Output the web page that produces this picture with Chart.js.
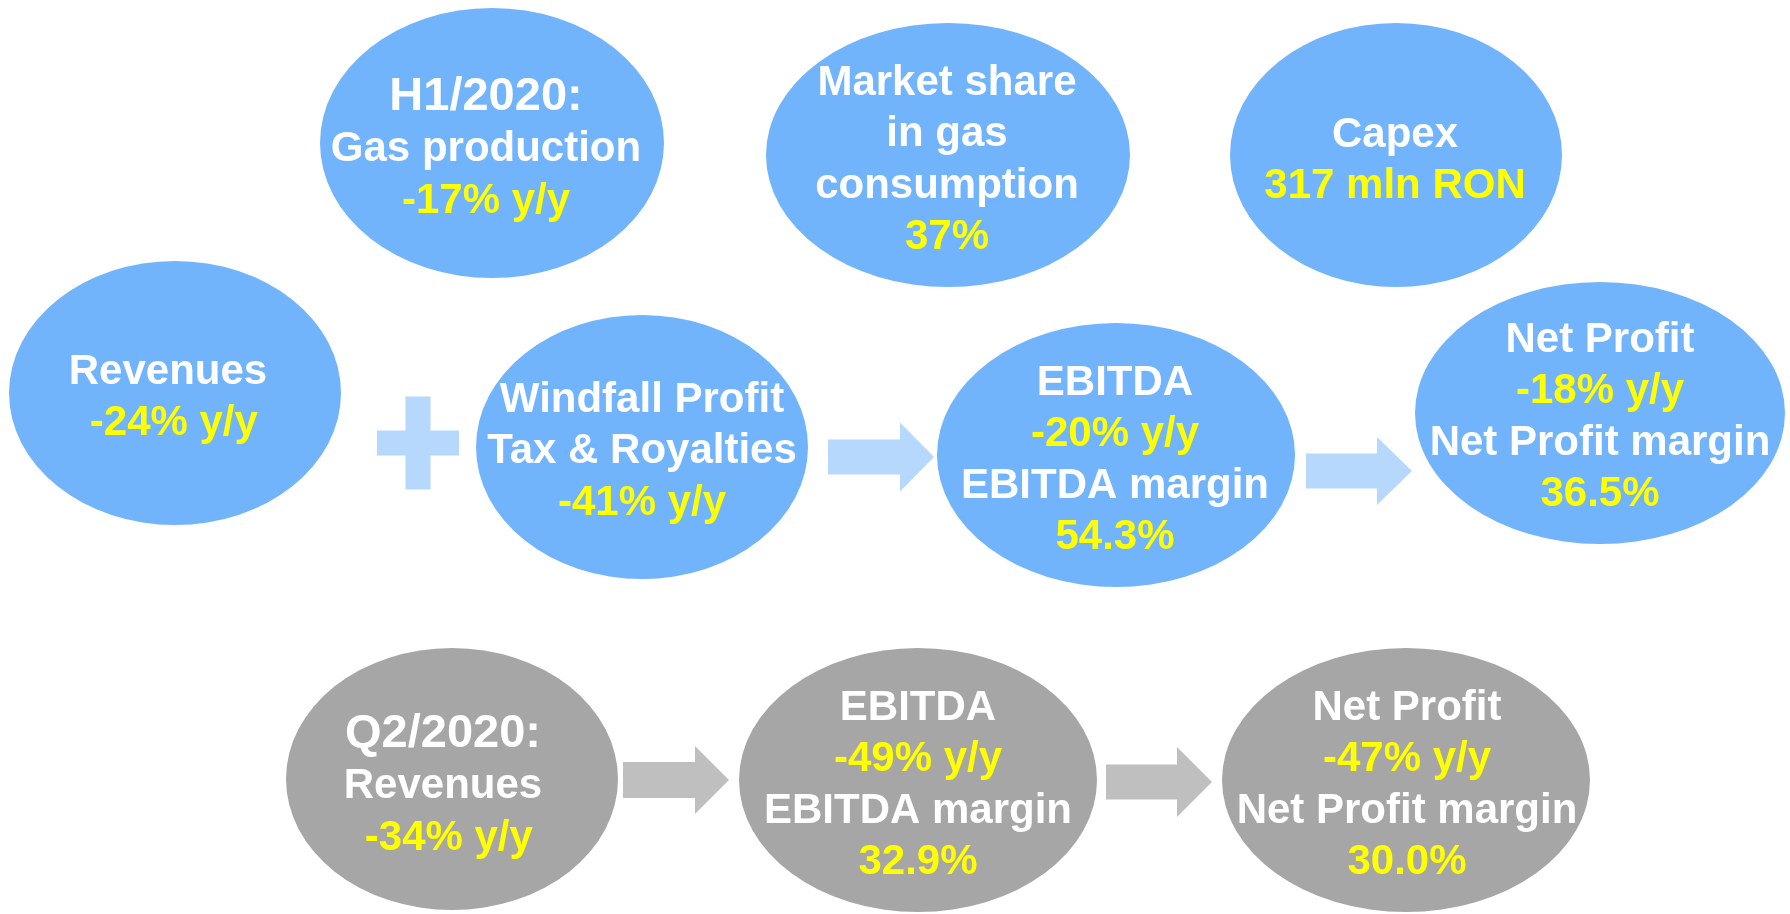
<!DOCTYPE html>
<html>
<head>
<meta charset="utf-8">
<script src="https://cdn.jsdelivr.net/npm/chart.js@4/dist/chart.umd.min.js"></script>
<style>
    html, body { margin: 0; padding: 0; background: #ffffff; }
    #wrap { width: 1790px; height: 914px; position: relative; }
</style>
</head>
<body>
<div id="wrap"><canvas id="overviewChart"></canvas></div>
<script>
// H1/2020 figures
const h1Items = ['Gas production', 'Revenues', 'Windfall Profit\nTax & Royalties', 'EBITDA', 'Net Profit'];
const h1YoY = [-17, -24, -41, -20, -18];
const h1MarginItems = ['EBITDA margin', 'Net Profit margin'];
const h1Margins = [54.3, 36.5];
const shareLabel = 'Market share\nin gas\nconsumption';
const gasMarketShare = [37];
const capexLabel = 'Capex';
const capexMlnRon = [317];

// Q2/2020 figures
const q2Items = ['Revenues', 'EBITDA', 'Net Profit'];
const q2YoY = [-34, -49, -47];
const q2MarginItems = ['EBITDA margin', 'Net Profit margin'];
const q2Margins = [32.9, 30.0];

const BLUE = '#71b4fc';
const BLUE_LIGHT = '#b7d8fd';
const GREY = '#a6a6a6';
const GREY_LIGHT = '#bfbfbf';
const WHITE = '#ffffff';
const YELLOW = '#ffff00';

const yoy = v => `${v}% y/y`;
const pct = v => `${v.toFixed(1)}%`;
const white = label => label.split('\n').map(t => [t, WHITE]);

// layout of the bubbles (page coordinates, y goes down)
const nodes = [
    { cx: 492, cy: 143, rx: 172, ry: 135, fill: BLUE, tx: 486, ty: 110,
      lines: [['H1/2020:', WHITE, 47], ...white(h1Items[0]), [yoy(h1YoY[0]), YELLOW]] },
    { cx: 948, cy: 155, rx: 182, ry: 132, fill: BLUE, tx: 947, ty: 95,
      lines: [...white(shareLabel), [`${gasMarketShare[0]}%`, YELLOW]] },
    { cx: 1396, cy: 155, rx: 166, ry: 132, fill: BLUE, tx: 1395, ty: 147,
      lines: [...white(capexLabel), [`${capexMlnRon[0]} mln RON`, YELLOW]] },
    { cx: 175, cy: 393, rx: 166, ry: 132, fill: BLUE, tx: 168, ty: 384,
      lines: [...white(h1Items[1]), [' ' + yoy(h1YoY[1]), YELLOW]] },
    { cx: 642, cy: 447, rx: 166, ry: 132, fill: BLUE, tx: 642, ty: 412,
      lines: [...white(h1Items[2]), [yoy(h1YoY[2]), YELLOW]] },
    { cx: 1116, cy: 455, rx: 179, ry: 132, fill: BLUE, tx: 1115, ty: 395,
      lines: [...white(h1Items[3]), [yoy(h1YoY[3]), YELLOW], ...white(h1MarginItems[0]), [pct(h1Margins[0]), YELLOW]] },
    { cx: 1600, cy: 413, rx: 185, ry: 131, fill: BLUE, tx: 1600, ty: 352,
      lines: [...white(h1Items[4]), [yoy(h1YoY[4]), YELLOW], ...white(h1MarginItems[1]), [pct(h1Margins[1]), YELLOW]] },
    { cx: 452, cy: 779, rx: 166, ry: 131, fill: GREY, tx: 443, ty: 747,
      lines: [['Q2/2020:', WHITE, 47], ...white(q2Items[0]), [' ' + yoy(q2YoY[0]), YELLOW]] },
    { cx: 918, cy: 780, rx: 179, ry: 132, fill: GREY, tx: 918, ty: 720,
      lines: [...white(q2Items[1]), [yoy(q2YoY[1]), YELLOW], ...white(q2MarginItems[0]), [pct(q2Margins[0]), YELLOW]] },
    { cx: 1406, cy: 780, rx: 184, ry: 132, fill: GREY, tx: 1407, ty: 720,
      lines: [...white(q2Items[2]), [yoy(q2YoY[2]), YELLOW], ...white(q2MarginItems[1]), [pct(q2Margins[1]), YELLOW]] }
];

// block arrows: tail x, neck x, tip x, centre y, shaft half height, head half height
const arrows = [
    { x0: 828, xn: 900, xt: 934, cy: 457, sh: 17.5, hh: 34.5, fill: BLUE_LIGHT },
    { x0: 1306, xn: 1377, xt: 1412, cy: 471, sh: 17.5, hh: 34, fill: BLUE_LIGHT },
    { x0: 623, xn: 695, xt: 729, cy: 780, sh: 18, hh: 34, fill: GREY_LIGHT },
    { x0: 1106, xn: 1177, xt: 1212, cy: 782, sh: 17.5, hh: 35, fill: GREY_LIGHT }
];
const plusSign = { cx: 418, cy: 443, w: 82, h: 93, bar: 25, fill: BLUE_LIGHT };

const LINE_STEP = 51.3;

const diagramPlugin = {
    id: 'diagram',
    beforeDatasetsDraw(chart) {
        const { ctx, scales: { x, y } } = chart;
        const px = v => x.getPixelForValue(v);
        const py = v => y.getPixelForValue(v);
        const meta = chart.getDatasetMeta(0);

        ctx.save();

        // plus sign
        const p = plusSign;
        ctx.fillStyle = p.fill;
        ctx.fillRect(px(p.cx - p.w / 2), py(p.cy - p.bar / 2), px(p.cx + p.w / 2) - px(p.cx - p.w / 2), py(p.cy + p.bar / 2) - py(p.cy - p.bar / 2));
        ctx.fillRect(px(p.cx - p.bar / 2), py(p.cy - p.h / 2), px(p.cx + p.bar / 2) - px(p.cx - p.bar / 2), py(p.cy + p.h / 2) - py(p.cy - p.h / 2));

        // arrows
        arrows.forEach(a => {
            ctx.fillStyle = a.fill;
            ctx.beginPath();
            ctx.moveTo(px(a.x0), py(a.cy - a.sh));
            ctx.lineTo(px(a.xn), py(a.cy - a.sh));
            ctx.lineTo(px(a.xn), py(a.cy - a.hh));
            ctx.lineTo(px(a.xt), py(a.cy));
            ctx.lineTo(px(a.xn), py(a.cy + a.hh));
            ctx.lineTo(px(a.xn), py(a.cy + a.sh));
            ctx.lineTo(px(a.x0), py(a.cy + a.sh));
            ctx.closePath();
            ctx.fill();
        });

        // bubbles and their text
        nodes.forEach((n, i) => {
            const pt = meta.data[i];
            const rx = Math.abs(px(n.cx + n.rx) - px(n.cx));
            const ry = Math.abs(py(n.cy + n.ry) - py(n.cy));
            ctx.fillStyle = n.fill;
            ctx.beginPath();
            ctx.ellipse(pt.x, pt.y, rx, ry, 0, 0, Math.PI * 2);
            ctx.fill();

            ctx.textAlign = 'center';
            ctx.textBaseline = 'alphabetic';
            n.lines.forEach(([text, color, size], k) => {
                ctx.font = `bold ${size || 42}px "Liberation Sans", Arial, sans-serif`;
                ctx.fillStyle = color;
                ctx.fillText(text, px(n.tx), py(n.ty + k * LINE_STEP));
            });
        });

        ctx.restore();
    }
};

new Chart(document.getElementById('overviewChart'), {
    type: 'scatter',
    data: {
        datasets: [{
            data: nodes.map(n => ({ x: n.cx, y: n.cy })),
            pointRadius: 0,
            pointHoverRadius: 0
        }]
    },
    options: {
        responsive: true,
        maintainAspectRatio: false,
        animation: false,
        layout: { padding: 0 },
        plugins: {
            legend: { display: false },
            tooltip: { enabled: false }
        },
        scales: {
            x: { type: 'linear', min: 0, max: 1790, display: false },
            y: { type: 'linear', min: 0, max: 914, reverse: true, display: false }
        }
    },
    plugins: [diagramPlugin]
});
</script>
</body>
</html>
